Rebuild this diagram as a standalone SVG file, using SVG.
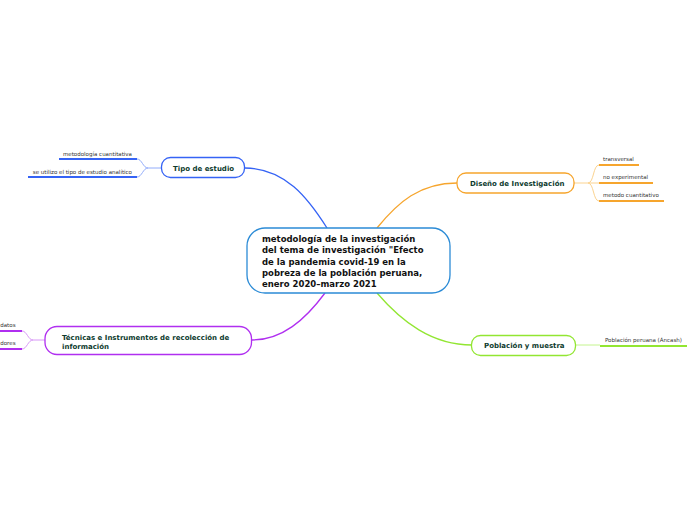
<svg xmlns="http://www.w3.org/2000/svg" width="697" height="520" viewBox="0 0 697 520">
<style>
.bg{fill:#ffffff}
.node{fill:#ffffff;stroke-width:1.3}
.nt{font-family:"DejaVu Sans",Verdana,sans-serif;font-weight:bold;font-size:7px;fill:#0d3b2e}
.tt{font-family:"DejaVu Sans",Verdana,sans-serif;font-weight:bold;font-size:8.5px;fill:#111111}
.ct{font-family:"DejaVu Sans",Verdana,sans-serif;font-size:5.5px;fill:#333333}
.con{fill:none;stroke-width:1.3}
.br{fill:none;stroke-width:1}
.ul{fill:none;stroke-width:2}
.blue{stroke:#3563f5}
.lblue{stroke:#92acfb}
.orange{stroke:#f6a52d}
.lorange{stroke:#fbd390}
.green{stroke:#92e632}
.lgreen{stroke:#c4f48e}
.purple{stroke:#b02ff0}
.lpurple{stroke:#d898f7}
</style>
<rect class="bg" x="0" y="0" width="697" height="520"/>
<g id="connectors">
<path class="con blue" d="M245,168 C285,168 308,198 327,228"/>
<path class="con orange" d="M377,228 C398,202 420,183 457,183"/>
<path class="con purple" d="M325,293 C305,320 282,340 252,340"/>
<path class="con green" d="M377,293 C402,322 432,345 472,345"/>
<path class="br lblue" d="M161,168 H148 M148,168 C143,168 142,159 137,159 M148,168 C143,168 142,177 137,177"/>
<path class="br lorange" d="M574,183 H599 M588,183 C594,183 593,165 599,165 M588,183 C594,183 593,201 599,201"/>
<path class="br lgreen" d="M575,345 H600"/>
<path class="br lpurple" d="M45,340 H33 M33,340 C28,340 27,331 22,331 M33,340 C28,340 27,349 22,349"/>
</g>
<g id="central">
<rect class="node" x="247" y="228" width="203" height="65" rx="18" stroke="#2b8bd6"/>
<text class="tt" x="262" y="242">metodología de la investigación</text>
<text class="tt" x="262" y="253">del tema de investigación "Efecto</text>
<text class="tt" x="262" y="264.5">de la pandemia covid-19 en la</text>
<text class="tt" x="262" y="275.5">pobreza de la población peruana,</text>
<text class="tt" x="262" y="286.5">enero 2020–marzo 2021</text>
</g>
<g id="tipo">
<rect class="node blue" x="161.5" y="157.5" width="83" height="20" rx="9"/>
<text class="nt" x="173" y="170.8">Tipo de estudio</text>
</g>
<g id="tipo-c1">
<path class="ul blue" d="M59,159 H137"/>
<text class="ct" x="132" y="155.5" text-anchor="end">metodología cuantitativa</text>
</g>
<g id="tipo-c2">
<path class="ul blue" d="M28,177 H137"/>
<text class="ct" x="132" y="173.5" text-anchor="end">se utilizo el tipo de estudio analítico</text>
</g>
<g id="diseno">
<rect class="node orange" x="457" y="173" width="117" height="20" rx="9"/>
<text class="nt" x="470" y="186">Diseño de Investigación</text>
</g>
<g id="diseno-c1">
<path class="ul orange" d="M599,165 H639"/>
<text class="ct" x="603" y="161">transversal</text>
</g>
<g id="diseno-c2">
<path class="ul orange" d="M599,183 H653"/>
<text class="ct" x="603" y="179">no experimental</text>
</g>
<g id="diseno-c3">
<path class="ul orange" d="M599,201 H664"/>
<text class="ct" x="603" y="197">metodo cuantitativo</text>
</g>
<g id="poblacion">
<rect class="node green" x="471.5" y="335.5" width="104" height="20" rx="9"/>
<text class="nt" x="484" y="348.3">Población y muestra</text>
</g>
<g id="poblacion-c1">
<path class="ul green" d="M600,346 H687"/>
<text class="ct" x="605" y="342">Población peruana (Áncash)</text>
</g>
<g id="tecnicas">
<rect class="node purple" x="45" y="326.5" width="206.5" height="28" rx="12"/>
<text class="nt" x="62" y="339.5">Técnicas e Instrumentos de recolección de</text>
<text class="nt" x="62" y="348.5">información</text>
</g>
<g id="tecnicas-c1">
<path class="ul purple" d="M0,331 H22"/>
<text class="ct" x="15.5" y="327" text-anchor="end">datos</text>
</g>
<g id="tecnicas-c2">
<path class="ul purple" d="M0,349 H22"/>
<text class="ct" x="15.5" y="345" text-anchor="end">dores</text>
</g>
</svg>
